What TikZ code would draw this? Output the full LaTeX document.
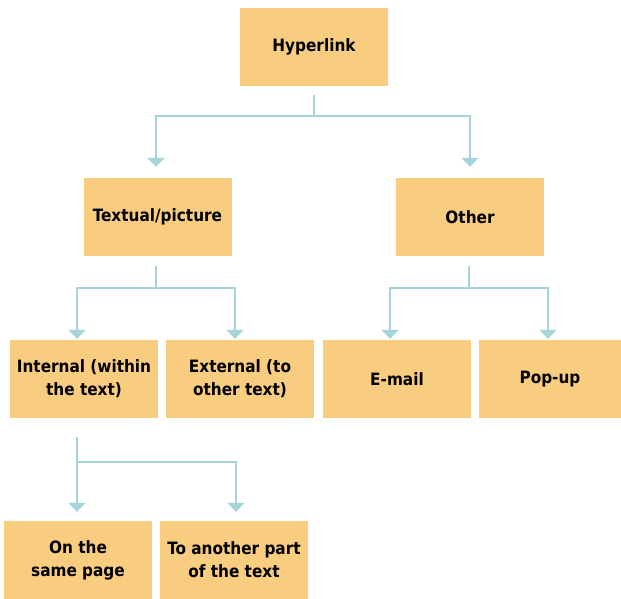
\documentclass[tikz,border=0pt]{standalone}
\usepackage{fontspec}
\setmainfont{DejaVu Sans Condensed}
\usetikzlibrary{arrows.meta}
\definecolor{boxfill}{HTML}{F8CD80}
\definecolor{linec}{HTML}{A5D5DB}
\tikzset{
  box/.style={fill=boxfill, draw=none, minimum width=148pt, minimum height=78pt,
    inner sep=0pt, align=center, font=\fontsize{17}{23}\selectfont\bfseries},
  conn/.style={draw=linec, line width=2.5pt, -{Triangle[width=17pt,length=9pt]}}
}
\begin{document}
\begin{tikzpicture}[x=1pt,y=-1pt]
\useasboundingbox (0,0) rectangle (621,598);
\node[box] (hyper) at (314,47) {Hyperlink};
\node[box] (textual) at (157.5,217) {Textual/picture};
\node[box] (other) at (470,217) {Other};
\node[box] (internal) at (84,379) {Internal (within\\ the text)};
\node[box] (external) at (240,379) {External (to\\other text)};
\node[box] (email) at (397,379) {E-mail};
\node[box, minimum width=142pt] (popup) at (550,379) {Pop-up};
\node[box] (same) at (78,560) {On the\\same page};
\node[box] (another) at (234,560) {To another part\\of the text};
% connectors
\draw[conn] ([yshift=-9pt]hyper.south) -- ++(0,21) -| ([xshift=-1.5pt,yshift=11pt]textual.north);
\draw[conn] ([yshift=-9pt]hyper.south) -- ++(0,21) -| ([yshift=11pt]other.north);
\draw[conn] ([xshift=-1.5pt,yshift=-10pt]textual.south) -- ++(0,22) -| ([xshift=-7pt,yshift=1pt]internal.north);
\draw[conn] ([xshift=-1.5pt,yshift=-10pt]textual.south) -- ++(0,22) -| ([xshift=-5pt,yshift=1pt]external.north);
\draw[conn] ([xshift=-1pt,yshift=-10pt]other.south) -- ++(0,22) -| ([xshift=-7pt,yshift=1pt]email.north);
\draw[conn] ([xshift=-1pt,yshift=-10pt]other.south) -- ++(0,22) -| ([xshift=-2pt,yshift=1pt]popup.north);
\draw[conn] ([xshift=-7pt,yshift=-19pt]internal.south) -- ++(0,25) -| ([xshift=2pt,yshift=9pt]another.north);
\draw[conn] ([xshift=-7pt,yshift=-19pt]internal.south) -- ([xshift=-1pt,yshift=9pt]same.north);
\end{tikzpicture}
\end{document}
